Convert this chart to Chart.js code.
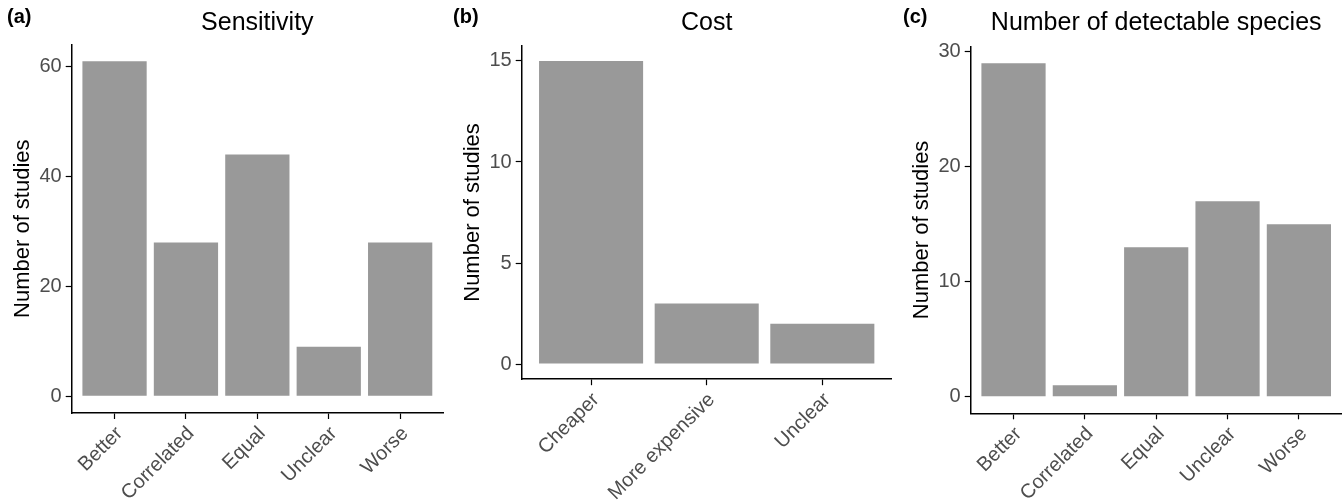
<!DOCTYPE html>
<html>
<head>
<meta charset="utf-8">
<script src="https://cdn.jsdelivr.net/npm/chart.js@4.4.1/dist/chart.umd.min.js"></script>
<style>
  body { margin: 0; background: #fff; }
  #wrap { position: relative; width: 1343px; height: 504px; overflow: hidden; }
  canvas { position: absolute; top: 0; }
  .tag { position: absolute; top: 5px; font: bold 20px "Liberation Sans", Arial, sans-serif; color: #000; }
</style>
</head>
<body>
<div id="wrap">
  <canvas id="chartA" width="447" height="504" style="left:0px"></canvas>
  <canvas id="chartB" width="447" height="504" style="left:447px"></canvas>
  <canvas id="chartC" width="449" height="504" style="left:894px"></canvas>
  <div class="tag" style="left:7px">(a)</div>
  <div class="tag" style="left:453px">(b)</div>
  <div class="tag" style="left:903px">(c)</div>
</div>
<script>
// datos de cada panel
const sensLabels = ['Better', 'Correlated', 'Equal', 'Unclear', 'Worse'];
const sensValues = [61, 28, 44, 9, 28];
const sensTicks = [0, 20, 40, 60];

const costLabels = ['Cheaper', 'More expensive', 'Unclear'];
const costValues = [15, 3, 2];
const costTicks = [0, 5, 10, 15];

const speciesLabels = ['Better', 'Correlated', 'Equal', 'Unclear', 'Worse'];
const speciesValues = [29, 1, 13, 17, 15];
const speciesTicks = [0, 10, 20, 30];

const FONT = '"Liberation Sans", Arial, Helvetica, sans-serif';
const BAR_COLOR = '#999999';

// crea un panel de barras al estilo ggplot (theme_classic)
function makePanel(id, title, labels, values, yTicks, box) {
    const ctx = document.getElementById(id).getContext('2d');
    const maxVal = Math.max(...values);
    const yMin = -0.05 * maxVal;
    const yMax = maxVal * 1.05;
    const canvasH = 504;
    const titleLine = 25 * 1.2;

    return new Chart(ctx, {
        type: 'bar',
        data: {
            datasets: [{
                data: values.map((v, i) => ({ x: i, y: v })),
                backgroundColor: BAR_COLOR,
                borderWidth: 0,
                barPercentage: 0.9,
                categoryPercentage: 1.0
            }]
        },
        options: {
            responsive: false,
            animation: false,
            layout: { padding: { left: 0, right: box.padRight, top: 0, bottom: 0 } },
            plugins: {
                legend: { display: false },
                tooltip: { enabled: false },
                title: {
                    display: true,
                    text: title,
                    fullSize: false,
                    color: '#000',
                    font: { family: FONT, size: 25, weight: 'normal', lineHeight: 1.2 },
                    padding: { top: 8, bottom: box.top - 8 - titleLine }
                }
            },
            scales: {
                x: {
                    type: 'linear',
                    offset: false,
                    min: -0.6,
                    max: labels.length - 0.4,
                    afterBuildTicks: scale => {
                        scale.ticks = labels.map((l, i) => ({ value: i }));
                    },
                    afterFit: scale => {
                        scale.height = canvasH - box.bottom;
                    },
                    ticks: {
                        autoSkip: false,
                        maxRotation: 45,
                        minRotation: 45,
                        padding: 3,
                        labelOffset: 5,
                        color: '#4d4d4d',
                        font: { family: FONT, size: 20 },
                        callback: value => labels[value]
                    },
                    grid: {
                        display: true,
                        offset: false,
                        drawOnChartArea: false,
                        drawTicks: true,
                        tickLength: 6,
                        tickWidth: 1.2,
                        tickColor: '#000'
                    },
                    border: { display: true, color: '#000', width: 1.5 }
                },
                y: {
                    min: yMin,
                    max: yMax,
                    afterBuildTicks: scale => {
                        scale.ticks = yTicks.map(v => ({ value: v }));
                    },
                    afterFit: scale => {
                        scale.width = box.left;
                    },
                    ticks: {
                        padding: 4,
                        color: '#4d4d4d',
                        font: { family: FONT, size: 20 }
                    },
                    grid: {
                        display: true,
                        drawOnChartArea: false,
                        drawTicks: true,
                        tickLength: 6,
                        tickWidth: 1.2,
                        tickColor: '#000'
                    },
                    border: { display: true, color: '#000', width: 1.5 },
                    title: {
                        display: true,
                        text: 'Number of studies',
                        color: '#000',
                        font: { family: FONT, size: 22, lineHeight: 1.2 },
                        padding: { top: box.left - 48.5 - 13.2, bottom: 0 }
                    }
                }
            }
        }
    });
}

makePanel('chartA', 'Sensitivity', sensLabels, sensValues, sensTicks,
    { left: 71.7, top: 44.4, bottom: 413, padRight: 4 });
makePanel('chartB', 'Cost', costLabels, costValues, costTicks,
    { left: 74.7, top: 45.8, bottom: 379.2, padRight: 2.3 });
makePanel('chartC', 'Number of detectable species', speciesLabels, speciesValues, speciesTicks,
    { left: 76.7, top: 46.5, bottom: 413.3, padRight: 1.3 });
</script>
</body>
</html>
